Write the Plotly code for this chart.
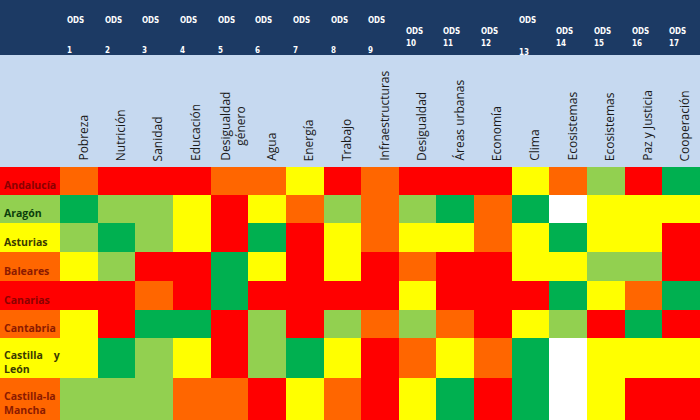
import plotly.graph_objects as go

regions = ["Andalucía", "Aragón", "Asturias", "Baleares", "Canarias", "Cantabria", "Castilla    y<br>León", "Castilla-la<br>Mancha"]
region_text_colors = ["#8B0000", "#0B3D0B", "#3A3A00", "#8B1A00", "#8B0000", "#8B1A00", "#3A3A00", "#8B1A00"]
ods_numbers = [str(i) for i in range(1, 18)]
goals = ["Pobreza", "Nutrición", "Sanidad", "Educación", "Desigualdad<br>género", "Agua", "Energía",
         "Trabajo", "Infraestructuras", "Desigualdad", "Áreas urbanas", "Economía", "Clima",
         "Ecosistemas", "Ecosistemas", "Paz y Justicia", "Cooperación"]
# codes: 0 white, 1 green, 2 light green, 3 yellow, 4 orange, 5 red ; first entry = label cell
status = [
    [5, 4,5,5,5,4,4,3,5,4,5,5,5,3,4,2,5,1],
    [2, 1,2,2,3,5,3,4,2,4,2,1,4,1,0,3,3,3],
    [3, 2,1,2,3,5,1,5,3,4,3,3,4,3,1,3,3,5],
    [4, 3,2,5,5,1,3,5,3,5,4,5,5,3,3,2,2,5],
    [5, 5,5,4,5,1,5,5,5,5,3,5,5,5,1,3,4,1],
    [4, 3,5,1,1,5,2,5,2,4,2,4,5,3,2,5,1,5],
    [3, 3,1,2,3,5,2,1,3,5,4,3,4,1,0,3,3,3],
    [4, 2,2,2,4,4,5,3,4,5,3,1,5,1,0,3,5,5],
]
row_heights = [28, 28, 29, 29, 29, 28, 40, 42]

label_w = 60
col_w = (700 - label_w) / 17
x_edges = [0] + [label_w + i * col_w for i in range(18)]
y_edges = [167]
for h in row_heights:
    y_edges.append(y_edges[-1] + h)

cols = ["#FFFFFF", "#00B050", "#92D050", "#FFFF00", "#FF6600", "#FF0000"]
cs = []
for i, c in enumerate(cols):
    cs.append([i / 6, c]); cs.append([(i + 1) / 6, c])

fig = go.Figure(go.Heatmap(z=status, x=x_edges, y=y_edges, colorscale=cs, zmin=-0.5, zmax=5.5,
                           showscale=False, hoverinfo="skip"))

shapes = [
    dict(type="rect", xref="x", yref="y", x0=0, x1=700, y0=0, y1=55, fillcolor="#1C3A64", line_width=0, layer="below"),
    dict(type="rect", xref="x", yref="y", x0=0, x1=700, y0=55, y1=167, fillcolor="#C6D9F0", line_width=0, layer="below"),
]
ann = []
for i, n in enumerate(ods_numbers):
    xl = x_edges[i + 1] + 5
    if i < 9:
        yo, yn = 20, 50
    elif i == 12:
        yo, yn = 20, 52
    else:
        yo, yn = 31, 43
    ann.append(dict(x=xl, y=yo, text="<b>ODS</b>", showarrow=False, xanchor="left",
                    font=dict(size=8, color="white", family="DejaVu Sans Condensed")))
    ann.append(dict(x=xl, y=yn, text="<b>" + n + "</b>", showarrow=False, xanchor="left",
                    font=dict(size=8, color="white", family="DejaVu Sans Condensed")))
    ann.append(dict(x=x_edges[i + 1] + col_w * 0.6, y=163, text=goals[i], textangle=-90, showarrow=False,
                    yanchor="bottom", xanchor="center",
                    font=dict(size=12, color="#1A1A1A", family="Open Sans")))
for r, name in enumerate(regions):
    ann.append(dict(x=2, y=(y_edges[r] + y_edges[r + 1]) / 2 + 4, text="<b>" + name + "</b>", showarrow=False,
                    xanchor="left", align="left",
                    font=dict(size=10.5, color=region_text_colors[r], family="Open Sans")))

fig.update_layout(autosize=True, margin=dict(l=0, r=0, t=0, b=0),
                  paper_bgcolor="white", plot_bgcolor="white", shapes=shapes, annotations=ann,
                  xaxis=dict(range=[0, 700], visible=False, fixedrange=True),
                  yaxis=dict(range=[420, 0], visible=False, fixedrange=True))
html = fig.to_html(full_html=True, default_width="100vw", default_height="100vh",
                   config={"responsive": True, "displayModeBar": False})
html = html.replace("<head>", "<head><style>html,body{margin:0;padding:0;overflow:hidden;}</style>", 1)
fig.write_html("out.html", default_width="100vw", default_height="100vh",
               config={"responsive": True, "displayModeBar": False})
with open("out.html", "w", encoding="utf-8") as f:
    f.write(html)
